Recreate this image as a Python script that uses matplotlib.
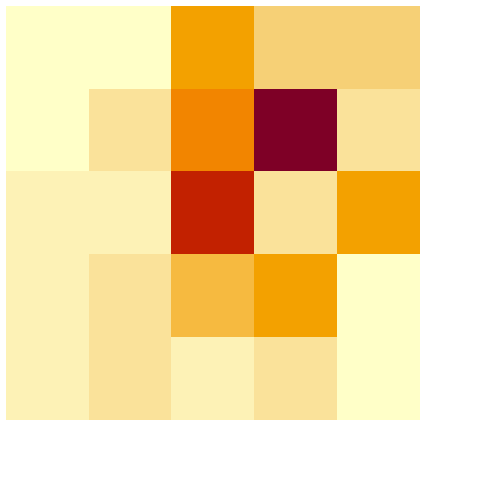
import numpy as np
import matplotlib
matplotlib.use("Agg")
import matplotlib.pyplot as plt
from matplotlib.colors import LinearSegmentedColormap

# cell values, top row first
grid = [
  [0, 0, 5, 3, 3],
  [0, 2, 6, 10, 2],
  [1, 1, 8, 2, 5],
  [1, 2, 4, 5, 0],
  [1, 2, 1, 2, 0],
]

# colour stops (value -> colour)
stop_vals = [0, 1, 2, 3, 4, 5, 6, 8, 10]
stop_cols = ["#ffffc8", "#fdf2b6", "#fae29a", "#f6d076", "#f6ba40",
             "#f4a200", "#f28500", "#c22200", "#7e0026"]

vmax = max(stop_vals)
cmap = LinearSegmentedColormap.from_list(
  "heat", [(v / vmax, c) for v, c in zip(stop_vals, stop_cols)])

fig = plt.figure(figsize=(5, 5), dpi=100)
ax = fig.add_axes([0.012, 0.16, 0.828, 0.828])
ax.imshow(np.array(grid), cmap=cmap, vmin=0, vmax=vmax,
          aspect="auto", interpolation="nearest")
ax.axis("off")

fig.savefig("out.png", dpi=100, facecolor="white")
